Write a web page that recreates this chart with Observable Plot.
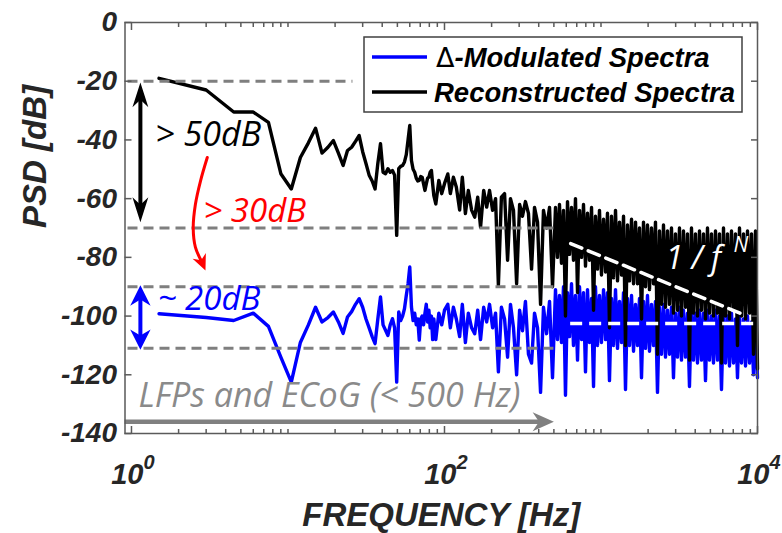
<!DOCTYPE html>
<html>
<head>
<meta charset="utf-8">
<script src="https://cdn.jsdelivr.net/npm/d3@7"></script>
<script src="https://cdn.jsdelivr.net/npm/@observablehq/plot@0.6"></script>
<style>
  html, body { margin: 0; padding: 0; background: #fff; }
  #chart svg { display: block; }
</style>
</head>
<body>
<div id="chart"></div>
<script>
// Power spectral density of the delta-modulated stream and of the reconstructed signal.
const freqHz = [
  1.5, 3, 4.5, 6, 7.5, 9, 10.5, 12, 13.5, 15, 16.5, 18, 19.5, 21, 22.5, 24, 25.5, 27, 28.5, 30,
  31.5, 33, 34.5, 36, 37.5, 39, 40.5, 42, 43.5, 45, 46.5, 48, 49.5, 51, 52.5, 54, 55.5, 57, 58.5, 60,
  61.5, 63, 64.5, 66, 67.5, 69, 70.5, 72, 73.5, 75, 76.5, 78, 79.5, 81, 82.5, 84, 85.5,
  88, 92, 96, 100, 105, 109, 114, 119, 125, 130, 136, 142, 149, 156, 163, 170, 178, 186, 194, 203,
  212, 221, 231, 242, 253, 264, 276, 289, 302, 315, 329, 344, 360, 376, 393, 411, 429, 449, 469, 490,
  512, 527, 543, 559, 576, 593, 611, 629, 648, 667, 687, 708, 729, 751, 773, 796, 820, 844, 870, 896,
  922, 950, 978, 1007, 1038, 1069, 1100, 1133, 1167, 1202, 1238, 1275, 1313, 1352, 1393, 1434, 1477, 1521, 1567, 1614,
  1662, 1711, 1762, 1815, 1869, 1925, 1982, 2041, 2102, 2165, 2229, 2296, 2364, 2435, 2508, 2583, 2660, 2739, 2821, 2905,
  2992, 3081, 3173, 3268, 3366, 3466, 3570, 3676, 3786, 3899, 4015, 4135, 4259, 4386, 4518, 4653, 4791, 4934, 5082, 5233,
  5390, 5551, 5717, 5888, 6063, 6244, 6431, 6623, 6821, 7024, 7234, 7450, 7673, 7903, 8139, 8382, 8632, 8890, 9156, 9429,
  9711, 10000
];

const reconstructedDb = [
  -19, -23, -30.5, -30.5, -34, -51.5, -56.7, -46, -41, -36, -44.5, -42.5, -40.2, -44.5, -48.7, -43.6, -42.5, -40.5, -38.5, -44,
  -48, -52, -54, -56.7, -48, -41.3, -51, -51.5, -49.8, -51, -50.4, -52, -72.5, -49.8, -49, -48.7, -47.5, -45, -40, -35.1,
  -47, -50, -51, -53, -54, -53.8, -52.5, -52.7, -55, -57.2, -55, -53, -52.7, -51, -50.4, -55, -59,
  -61.8, -53.8, -58.3, -54.9, -51.6, -58.3, -52.7, -56, -63.9, -52.7, -65.1, -57.2, -63.9, -66.3, -59.5, -69.7, -57.2, -62.9, -57.2, -64,
  -60, -89.5, -59.5, -58.3, -81, -60, -64, -89, -62, -66, -61, -65, -84, -63, -68, -96, -64, -70, -63, -90,
  -63, -80, -62, -82, -64, -100, -61, -79, -63, -81, -60, -92, -64, -80, -62, -83, -65, -81, -63, -98,
  -66, -84, -64, -86, -67, -85, -65, -104, -66, -87, -64, -88, -68, -86, -66, -110, -69, -88, -67, -89,
  -68, -89, -70, -101, -68, -90, -69, -91, -70, -89, -68, -113, -71, -96, -69, -97, -71, -96, -70, -99,
  -72, -98, -70, -100, -71, -97, -72, -115, -70, -99, -72, -100, -71, -98, -72, -101, -70, -99, -72, -100,
  -71, -99, -72, -116, -70, -100, -72, -101, -71, -98, -72, -110, -70, -100, -72, -101, -71, -99, -72, -113,
  -71, -118
];

const modulatedDb = [
  -99.2, -100.5, -101.5, -99, -103.5, -114, -122.5, -109, -103, -97, -102, -100.5, -98.6, -102, -105.9, -100.3, -98.5, -96, -94.1, -97,
  -101, -104, -107, -109.4, -101, -93.5, -103, -104.8, -106.6, -103, -100.9, -104, -122.5, -98.6, -101.5, -100, -97.5, -93, -89, -83.3,
  -96.9, -101.5, -99, -103, -101, -108.2, -101, -100, -103, -99, -96, -102, -98, -104, -100, -108, -101,
  -108, -99, -103, -98, -96, -104, -97, -101, -107, -96, -109, -99, -104, -106, -98, -108, -97, -102, -96, -104,
  -99, -119, -97, -101, -114, -96, -104, -120, -98, -105, -95, -113, -116, -99, -104, -126, -97, -106, -95, -121,
  -91, -108, -93, -109, -90, -127, -92, -107, -89, -110, -93, -115, -90, -108, -92, -119, -91, -109, -94, -124,
  -90, -110, -93, -109, -91, -108, -92, -122, -94, -110, -91, -111, -95, -109, -92, -125, -94, -110, -93, -112,
  -96, -110, -94, -121, -95, -111, -93, -112, -96, -110, -95, -126, -97, -113, -96, -114, -98, -113, -97, -121,
  -99, -114, -97, -115, -98, -114, -99, -124, -97, -115, -99, -116, -98, -115, -99, -122, -98, -115, -100, -116,
  -98, -115, -100, -125, -99, -116, -100, -117, -99, -116, -101, -121, -100, -116, -101, -117, -100, -116, -102, -120,
  -101, -121
];

const yTicks = [0, -20, -40, -60, -80, -100, -120, -140];
const xLabelTicks = [1, 100, 10000];
const xLabelExponents = ["0", "2", "4"];
const xMinorTicks = [2, 3, 4, 5, 6, 7, 8, 9, 10, 20, 30, 40, 50, 60, 70, 80, 90,
  200, 300, 400, 500, 600, 700, 800, 900, 1000, 2000, 3000, 4000, 5000, 6000, 7000, 8000, 9000];

const seriesNames = ["-Modulated Spectra", "Reconstructed Spectra"];
const seriesColors = ["#0000ff", "#000000"];

// grey dashed reference levels and where each one stops
const guideLevelsDb = [-20, -70, -90, -111];
const guideEndHz = [26, 500, 500, 500];
const guideStartHz = 0.95;

// white 1/f^N roll-off guide and the flat floor it runs into
const slopeHz = [640, 7800];
const slopeDb = [-75.3, -99.1];
const floorDb = -102.5;
const floorStartHz = 640;

// dB-span arrows on the left (frequency, top tip, bottom tip)
const spanArrowHz = 1.14;
const blackSpanDb = [-20.4, -68];
const blueSpanDb = [-89.5, -111.5];

// curved arrow linking the two spans
const bendHz = [3.05, 2.76, 2.56, 2.48, 2.56, 2.78];
const bendDb = [-46, -54, -62, -70, -76.5, -81];
const bendTip = [2.97, -84.5];

// LFP / ECoG band arrow
const bandArrowDb = -136;
const bandEndHz = 500;

// text annotations
const noteText = ["> 50dB", "> 30dB", "~ 20dB", "LFPs and ECoG (< 500 Hz)"];
const noteHz = [1.42, 2.88, 1.47, 1.108];
const noteDb = [-41.9, -68, -98.1, -130.9];
const noteColors = ["#000000", "#ff0000", "#0000ff", "#8a8a8a"];
const noteSizes = [34, 33, 33, 34];

const rows = freqHz.map((f, i) => ({f, rec: reconstructedDb[i], mod: modulatedDb[i]}));
const guides = guideLevelsDb.map((db, i) => ({db, x1: guideStartHz, x2: guideEndHz[i]}));
const bendPath = bendHz.map((f, i) => ({f, db: bendDb[i]}));

// filled arrowhead pointing along `angle` (degrees clockwise from up), tip at the anchor
function headSymbol(angle, widthRatio) {
  const a = angle * Math.PI / 180, c = Math.cos(a), s = Math.sin(a);
  const rot = (x, y) => [x * c - y * s, x * s + y * c];
  return {
    draw(ctx, size) {
      const l = Math.sqrt(size);
      const w = l * widthRatio;
      const pts = [[0, 0], [w, l], [0, l * 0.7], [-w, l]].map(([x, y]) => rot(x, y));
      ctx.moveTo(...pts[0]);
      ctx.lineTo(...pts[1]);
      ctx.lineTo(...pts[2]);
      ctx.lineTo(...pts[3]);
      ctx.closePath();
    }
  };
}
function head(f, db, angle, r, color, widthRatio = 0.4) {
  return Plot.dot([{f, db}], {x: "f", y: "db", r, symbol: headSymbol(angle, widthRatio), fill: color, stroke: "none"});
}

const axisFont = {fontFamily: "Liberation Sans, Arial, sans-serif", fontWeight: "bold", fontStyle: "italic"};
const noteFont = {fontFamily: "Open Sans, sans-serif", fontStyle: "italic", fontWeight: "normal"};
const tickColor = "#5a5a5a";

const chart = Plot.plot({
  width: 782,
  height: 533,
  marginLeft: 124.5,
  marginRight: 25,
  marginTop: 22,
  marginBottom: 100,
  style: {background: "#fff", fontFamily: "Liberation Sans, Arial, sans-serif", overflow: "visible"},
  x: {type: "log", domain: [0.909, 10000]},
  y: {domain: [-140, 0]},
  marks: [
    // spectra
    Plot.line(rows, {x: "f", y: "mod", stroke: seriesColors[0], strokeWidth: 3.4, strokeLinejoin: "round"}),
    Plot.line(rows, {x: "f", y: "rec", stroke: seriesColors[1], strokeWidth: 3.4, strokeLinejoin: "round"}),

    // reference levels
    Plot.ruleY(guides, {y: "db", x1: "x1", x2: "x2", stroke: "#7f7f7f", strokeWidth: 3, strokeDasharray: "10,6"}),
    Plot.ruleY([floorDb], {x1: floorStartHz, x2: 10000, stroke: "#fff", strokeWidth: 3.5, strokeDasharray: "12,7"}),
    Plot.line(slopeHz.map((f, i) => ({f, db: slopeDb[i]})), {x: "f", y: "db", stroke: "#fff", strokeWidth: 3.5, strokeDasharray: "12,7"}),

    // span arrows
    Plot.ruleX([spanArrowHz], {y1: blackSpanDb[0] - 3, y2: blackSpanDb[1] + 3, stroke: "#000", strokeWidth: 4}),
    head(spanArrowHz, blackSpanDb[0], 0, 14, "#000", 0.32),
    head(spanArrowHz, blackSpanDb[1], 180, 14, "#000", 0.32),
    Plot.ruleX([spanArrowHz], {y1: blueSpanDb[0] - 3, y2: blueSpanDb[1] + 3, stroke: "#0000ff", strokeWidth: 4}),
    head(spanArrowHz, blueSpanDb[0], 0, 11.5, "#0000ff", 0.5),
    head(spanArrowHz, blueSpanDb[1], 180, 11.5, "#0000ff", 0.5),

    // curved red arrow
    Plot.line(bendPath, {x: "f", y: "db", curve: "catmull-rom", stroke: "#ff0000", strokeWidth: 3}),
    head(bendTip[0], bendTip[1], 157, 9, "#ff0000", 0.45),

    // band arrow
    Plot.ruleY([bandArrowDb], {x1: 0.909, x2: 430, stroke: "#808080", strokeWidth: 4.5}),
    head(bandEndHz, bandArrowDb, 90, 12, "#808080", 0.45),

    // annotations
    ...noteText.map((t, i) => Plot.text([t], {
      x: noteHz[i], y: noteDb[i], text: d => d, fill: noteColors[i], fontSize: noteSizes[i],
      textAnchor: "start", lineAnchor: "bottom", ...noteFont
    })),
    Plot.text(["1 / f"], {x: 2583, y: -83.8, text: d => d, fill: "#fff", fontSize: 32, textAnchor: "start", lineAnchor: "bottom", ...noteFont}),
    Plot.text(["N"], {x: 7030, y: -78.3, text: d => d, fill: "#fff", fontSize: 21, textAnchor: "start", lineAnchor: "bottom", ...noteFont}),

    // axes box and inward ticks
    Plot.frame({stroke: tickColor, strokeWidth: 1.5}),
    Plot.axisY({anchor: "left", ticks: yTicks, tickSize: -7, tickPadding: 15, label: null,
      tickFormat: d => String(d), fontSize: 28, fill: "#262626", stroke: tickColor, strokeWidth: 1.5, ...axisFont}),
    Plot.axisY({anchor: "right", ticks: yTicks, tickSize: -7, label: null, tickFormat: () => "", stroke: tickColor, strokeWidth: 1.5}),
    Plot.axisX({anchor: "bottom", ticks: xLabelTicks, tickSize: -7, label: null, tickFormat: () => "", stroke: tickColor, strokeWidth: 1.5}),
    Plot.axisX({anchor: "bottom", ticks: xMinorTicks, tickSize: -4, label: null, tickFormat: () => "", stroke: tickColor, strokeWidth: 1.5}),
    Plot.axisX({anchor: "top", ticks: xLabelTicks, tickSize: -7, label: null, tickFormat: () => "", stroke: tickColor, strokeWidth: 1.5}),
    Plot.axisX({anchor: "top", ticks: xMinorTicks, tickSize: -4, label: null, tickFormat: () => "", stroke: tickColor, strokeWidth: 1.5}),

    // decade labels 10^n
    Plot.text(xLabelTicks, {x: d => d, frameAnchor: "bottom", text: () => "10", textAnchor: "end",
      dx: 12, dy: 50, lineAnchor: "bottom", fontSize: 29, fill: "#262626", ...axisFont}),
    Plot.text(xLabelTicks, {x: d => d, frameAnchor: "bottom", text: (d, i) => xLabelExponents[i], textAnchor: "start",
      dx: 12, dy: 35, lineAnchor: "bottom", fontSize: 20, fill: "#262626", ...axisFont}),

    // axis titles
    Plot.text(["FREQUENCY [Hz]"], {frameAnchor: "bottom", text: d => d, dy: 92, lineAnchor: "bottom",
      fontSize: 33, fill: "#262626", ...axisFont}),
    Plot.text(["PSD [dB]"], {frameAnchor: "left", text: d => d, rotate: -90, dx: -79.5, lineAnchor: "bottom",
      fontSize: 33, fill: "#262626", ...axisFont})
  ]
});

document.getElementById("chart").appendChild(chart);

// legend box in the upper right corner of the axes
const svg = d3.select(chart);
const legend = svg.append("g").attr("class", "legend");
legend.append("rect")
  .attr("x", 364).attr("y", 37).attr("width", 378).attr("height", 75)
  .attr("fill", "#fff").attr("stroke", "#404040").attr("stroke-width", 1.5);
seriesNames.forEach((name, i) => {
  const y = 57 + i * 35;
  legend.append("line")
    .attr("x1", 372).attr("x2", 427).attr("y1", y).attr("y2", y)
    .attr("stroke", seriesColors[i]).attr("stroke-width", 3.5);
  const t = legend.append("text")
    .attr("x", i === 0 ? 436 : 434).attr("y", y + 10)
    .attr("text-anchor", "start")
    .attr("font-family", "Liberation Sans, Arial, sans-serif")
    .attr("font-size", 27.5).attr("font-weight", "bold").attr("font-style", "italic")
    .attr("fill", "#000");
  if (i === 0) {
    t.append("tspan").attr("font-weight", "normal").attr("font-style", "normal")
      .attr("font-family", "DejaVu Sans, sans-serif").attr("font-size", 27).text("Δ");
  }
  t.append("tspan").text(name);
});
</script>
</body>
</html>
